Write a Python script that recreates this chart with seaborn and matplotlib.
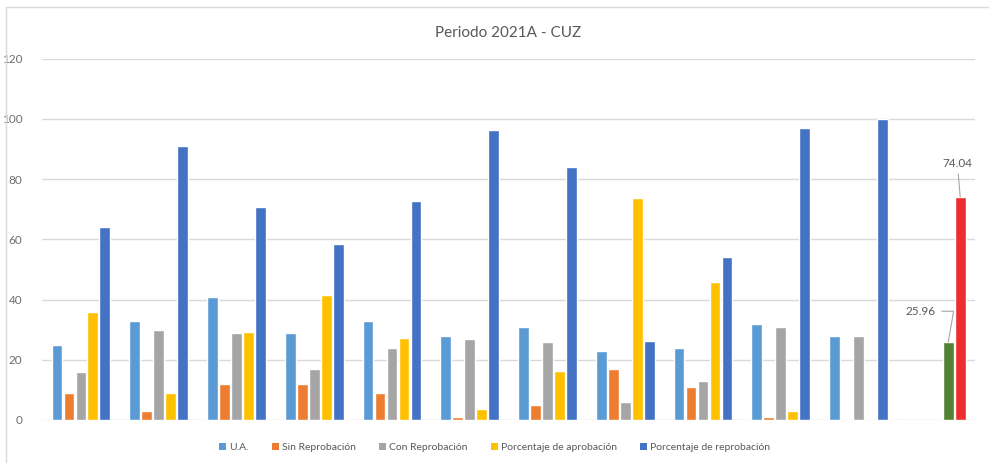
"""Periodo 2021A - CUZ: grouped bar chart recreated with seaborn."""

import matplotlib

matplotlib.use("Agg")

import matplotlib.pyplot as plt
import pandas as pd
import seaborn as sns
from matplotlib.patches import Patch

# data
groups = ["1", "2", "3", "4", "5", "6", "7", "8", "9", "10", "11", "12"]
series = [
    "U.A.",
    "Sin Reprobación",
    "Con Reprobación",
    "Porcentaje de aprobación",
    "Porcentaje de reprobación",
]
ua = [25, 33, 41, 29, 33, 28, 31, 23, 24, 32, 28, 0]
sin_reprob = [9, 3, 12, 12, 9, 1, 5, 17, 11, 1, 0, 0]
con_reprob = [16, 30, 29, 17, 24, 27, 26, 6, 13, 31, 28, 0]
pct_aprob = [36, 9.1, 29.3, 41.4, 27.3, 3.6, 16.1, 73.9, 45.8, 3.1, 0, 25.96]
pct_reprob = [64, 90.9, 70.7, 58.6, 72.7, 96.4, 83.9, 26.1, 54.2, 96.9, 100, 74.04]

colors = ["#5B9BD5", "#ED7D31", "#A5A5A5", "#FFC000", "#4472C4"]
total_colors = {"Porcentaje de aprobación": "#548235", "Porcentaje de reprobación": "#EE2E2E"}

sns.set_theme(style="white")
plt.rcParams["font.family"] = ["Lato", "DejaVu Sans"]

df = pd.DataFrame(
    {
        "grupo": groups,
        series[0]: ua,
        series[1]: sin_reprob,
        series[2]: con_reprob,
        series[3]: pct_aprob,
        series[4]: pct_reprob,
    }
).melt(id_vars="grupo", var_name="serie", value_name="valor")

fig = plt.figure(figsize=(9.89, 4.63), dpi=100)
ax = fig.add_axes([0.0425, 0.093, 0.9435, 0.78])

sns.barplot(
    data=df,
    x="grupo",
    y="valor",
    hue="serie",
    order=groups,
    hue_order=series,
    palette=colors,
    width=0.77,
    gap=0.1,
    saturation=1,
    legend=False,
    ax=ax,
)

# the last group is the period total, drawn in its own colours
last = len(groups) - 1
for name, color in total_colors.items():
    ax.containers[series.index(name)][last].set_facecolor(color)

ax.set_ylim(0, 120)
ax.set_xlim(-0.5, len(groups) - 0.5)
ax.set_yticks(range(0, 121, 20))
ax.yaxis.grid(True, color="#D9D9D9", linewidth=1)
ax.set_axisbelow(True)
ax.set_xticks([])
ax.set_xlabel("")
ax.set_ylabel("")
ax.tick_params(axis="y", length=0, labelsize=8.5, labelcolor="#6E6E6E", pad=14)
sns.despine(ax=ax, left=True, bottom=True)

# data labels with leader lines on the total group
green_bar = ax.containers[3][last]
red_bar = ax.containers[4][last]
gx = green_bar.get_x() + green_bar.get_width() / 2
rx = red_bar.get_x() + red_bar.get_width() / 2
ax.annotate(
    f"{pct_aprob[last]:.2f}",
    xy=(gx, pct_aprob[last]),
    xytext=(-9, 22),
    textcoords="offset points",
    ha="right",
    va="center",
    fontsize=8.5,
    color="#595959",
    arrowprops=dict(arrowstyle="-", color="#A6A6A6", lw=0.8, shrinkA=2, shrinkB=0,
                    connectionstyle="angle,angleA=0,angleB=80,rad=0"),
)
ax.annotate(
    f"{pct_reprob[last]:.2f}",
    xy=(rx, pct_reprob[last]),
    xytext=(-2, 20),
    textcoords="offset points",
    ha="center",
    va="bottom",
    fontsize=8.5,
    color="#595959",
    arrowprops=dict(arrowstyle="-", color="#A6A6A6", lw=0.8, shrinkA=1, shrinkB=0),
)

ax.set_title("Periodo 2021A - CUZ", fontsize=11, color="#595959", pad=16)

handles = [Patch(facecolor=c, edgecolor="none") for c in colors]
fig.legend(
    handles,
    series,
    loc="center",
    bbox_to_anchor=(0.5, 0.033),
    ncol=5,
    frameon=False,
    fontsize=7.5,
    labelcolor="#595959",
    handlelength=0.7,
    handleheight=0.7,
    handletextpad=0.3,
    columnspacing=2.2,
)

# chart-area border (left and top visible in the reference)
fig.add_artist(plt.Rectangle((0.006, -0.05), 1.1, 1.035, transform=fig.transFigure,
                             fill=False, edgecolor="#D9D9D9", linewidth=1))

fig.savefig("out.png", dpi=100)
